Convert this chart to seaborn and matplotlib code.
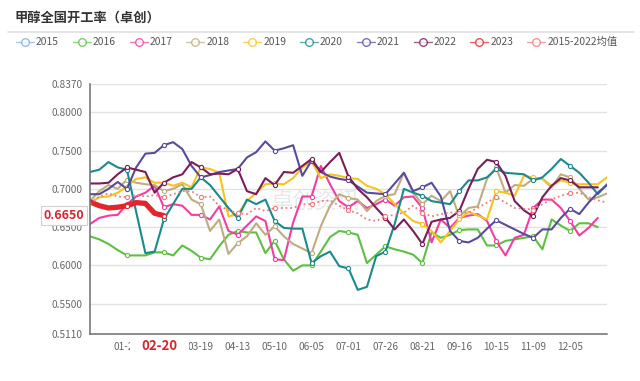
import numpy as np
import pandas as pd
import matplotlib
matplotlib.use("Agg")
import matplotlib.pyplot as plt
import matplotlib.transforms as mtransforms
from matplotlib.lines import Line2D
from matplotlib.patches import Rectangle
import seaborn as sns

nan = np.nan

# category axis: 57 weekly slots, a label every 4th slot
n_cat = 57
tick_labels = ["01-23", "02-20", "03-19", "04-13", "05-10", "06-05", "07-01",
               "07-26", "08-21", "09-16", "10-15", "11-09", "12-05"]
y_ticks = [0.511, 0.55, 0.60, 0.65, 0.70, 0.75, 0.80, 0.837]

y2015 = []
y2016 = [0.638, 0.634, 0.628, 0.620, 0.613, 0.613, 0.613, 0.617, 0.617, 0.613,
         0.626, 0.619, 0.610, 0.608, 0.625, 0.640, 0.645, 0.643, 0.643, 0.616,
         0.632, 0.608, 0.593, 0.600, 0.600, 0.618, 0.637, 0.645, 0.643, 0.640,
         0.603, 0.614, 0.625, 0.621, 0.618, 0.614, 0.603, 0.643, 0.636, 0.640,
         0.646, 0.647, 0.647, 0.626, 0.626, 0.632, 0.634, 0.636, 0.638, 0.621,
         0.660, 0.652, 0.645, 0.655, 0.655, 0.650, nan]
y2017 = [0.654, 0.662, 0.665, 0.666, 0.680, 0.690, 0.695, 0.704, 0.676, 0.680,
         0.678, 0.666, 0.666, 0.660, 0.677, 0.645, 0.640, 0.652, 0.664, 0.658,
         0.608, 0.607, 0.656, 0.690, 0.690, 0.730, 0.706, 0.684, 0.676, 0.684,
         0.675, 0.680, 0.686, 0.678, 0.689, 0.690, 0.675, 0.630, 0.660, 0.649,
         0.662, 0.665, 0.667, 0.658, 0.632, 0.613, 0.636, 0.640, 0.675, 0.686,
         0.686, 0.675, 0.658, 0.639, 0.649, 0.662, nan]
y2018 = [0.684, 0.697, 0.705, 0.700, 0.712, 0.708, 0.706, 0.705, 0.697, 0.700,
         0.706, 0.686, 0.680, 0.645, 0.660, 0.615, 0.629, 0.638, 0.655, 0.640,
         0.651, 0.638, 0.628, 0.622, 0.616, 0.651, 0.678, 0.693, 0.688, 0.686,
         0.671, 0.684, 0.691, 0.693, 0.721, 0.695, 0.680, 0.691, 0.684, 0.697,
         0.664, 0.675, 0.677, 0.713, 0.728, 0.695, 0.705, 0.704, 0.713, 0.713,
         0.702, 0.719, 0.715, 0.700, 0.686, 0.689, 0.694]
y2019 = [0.682, 0.689, 0.690, 0.695, 0.703, 0.713, 0.715, 0.708, 0.708, 0.704,
         0.708, 0.702, 0.728, 0.726, 0.721, 0.664, 0.667, 0.684, 0.695, 0.706,
         0.707, 0.706, 0.714, 0.728, 0.736, 0.714, 0.719, 0.717, 0.714, 0.713,
         0.704, 0.700, 0.693, 0.680, 0.668, 0.658, 0.654, 0.645, 0.630, 0.645,
         0.660, 0.670, 0.665, 0.660, 0.697, 0.695, 0.691, 0.717, 0.715, 0.713,
         0.704, 0.711, 0.708, 0.706, 0.706, 0.706, 0.715]
y2020 = [0.722, 0.725, 0.735, 0.728, 0.725, 0.670, 0.616, 0.618, 0.660, 0.680,
         0.700, 0.700, 0.715, 0.705, 0.690, 0.675, 0.662, 0.686, 0.680, 0.686,
         0.658, 0.649, 0.648, 0.648, 0.603, 0.612, 0.618, 0.599, 0.596, 0.568,
         0.572, 0.612, 0.618, 0.654, 0.700, 0.695, 0.691, 0.684, 0.682, 0.680,
         0.697, 0.711, 0.711, 0.715, 0.726, 0.721, 0.720, 0.719, 0.711, 0.715,
         0.726, 0.739, 0.730, 0.721, 0.708, 0.693, 0.706]
y2021 = [0.693, 0.693, 0.700, 0.709, 0.700, 0.728, 0.746, 0.747, 0.757, 0.761,
         0.752, 0.730, 0.715, 0.718, 0.722, 0.724, 0.726, 0.741, 0.748, 0.762,
         0.750, 0.753, 0.757, 0.717, 0.737, 0.722, 0.716, 0.713, 0.711, 0.703,
         0.695, 0.694, 0.693, 0.707, 0.721, 0.697, 0.702, 0.708, 0.690, 0.645,
         0.632, 0.630, 0.636, 0.648, 0.659, 0.653, 0.647, 0.641, 0.636, 0.647,
         0.647, 0.662, 0.674, 0.667, 0.682, 0.695, 0.705]
y2022 = [0.707, 0.707, 0.708, 0.719, 0.728, 0.725, 0.722, 0.695, 0.708, 0.715,
         0.719, 0.735, 0.728, 0.719, 0.720, 0.719, 0.726, 0.697, 0.693, 0.714,
         0.705, 0.722, 0.721, 0.730, 0.739, 0.722, 0.735, 0.747, 0.716, 0.700,
         0.689, 0.675, 0.662, 0.647, 0.660, 0.645, 0.628, 0.657, 0.660, 0.662,
         0.671, 0.700, 0.726, 0.738, 0.735, 0.717, 0.684, 0.672, 0.664, 0.689,
         0.704, 0.714, 0.711, 0.702, 0.702, 0.702, nan]
y2023 = [0.683, 0.678, 0.675, 0.676, 0.678, 0.682, 0.681, 0.668, 0.665]
y_avg = [0.680, 0.690, 0.694, 0.690, 0.689, 0.692, 0.690, 0.692, 0.689, 0.693,
         0.697, 0.697, 0.689, 0.690, 0.678, 0.672, 0.668, 0.667, 0.675, 0.671,
         0.675, 0.675, 0.675, 0.680, 0.680, 0.684, 0.685, 0.678, 0.672, 0.668,
         0.660, 0.658, 0.664, 0.666, 0.669, 0.678, 0.669, 0.664, 0.667, 0.669,
         0.669, 0.669, 0.675, 0.682, 0.689, 0.682, 0.675, 0.674, 0.673, 0.680,
         0.686, 0.691, 0.694, 0.695, 0.689, 0.685, 0.682]

pointer_label = "02-20"
pointer_value = 0.665

series = [
    ("2015", y2015, "#7eaee0"),
    ("2016", y2016, "#5cc040"),
    ("2017", y2017, "#f23da3"),
    ("2018", y2018, "#bfad80"),
    ("2019", y2019, "#f8c31c"),
    ("2020", y2020, "#1b8a8c"),
    ("2021", y2021, "#5a4a9f"),
    ("2022", y2022, "#7a1d5a"),
    ("2023", y2023, "#e2252c"),
    ("2015-2022均值", y_avg, "#f07c7c"),
]

rows = []
for name, vals, _ in series:
    for i, v in enumerate(vals):
        rows.append({"series": name, "idx": i, "rate": v})
df = pd.DataFrame(rows).dropna()

sns.set_style("white")
plt.rcParams["font.family"] = ["Noto Sans CJK SC", "DejaVu Sans"]

W, H = 640, 381
fig = plt.figure(figsize=(W / 100, H / 100), dpi=100)


def fx(px):
    return px / W


def fy(py):
    return 1 - py / H


ax = fig.add_axes([fx(90), fy(333.5), (607 - 90) / W, (333.5 - 84) / H])

tick_pos = list(range(4, 4 * len(tick_labels) + 1, 4))

for name, vals, color in series:
    sub = df[df["series"] == name]
    if sub.empty:
        continue
    n = len(sub)
    marks = [m for m in tick_pos if m < n]
    kw = dict(lw=1.5, marker="o", markevery=marks, ms=3.0, mfc="white",
              mec=color, mew=0.8)
    if name == "2023":
        kw.update(lw=3.8)
    if name.endswith("均值"):
        kw.update(lw=1.3, ls=(0, (1, 1.6)))
    sns.lineplot(data=sub, x="idx", y="rate", ax=ax, color=color,
                 estimator=None, errorbar=None, legend=False, sort=True, **kw)

ax.set_xlim(0, n_cat - 1)
ax.set_ylim(y_ticks[0], y_ticks[-1])
ax.set_xticks(tick_pos)
ax.set_xticklabels(tick_labels)
ax.set_yticks(y_ticks)
ax.set_yticklabels([f"{v:.4f}" for v in y_ticks])
ax.set_xlabel("")
ax.set_ylabel("")

for s in ["top", "right"]:
    ax.spines[s].set_visible(False)
for s in ["left", "bottom"]:
    ax.spines[s].set_color("#6e6e6e")
    ax.spines[s].set_linewidth(1.1)

ax.yaxis.grid(True, color="#e2e2e2", lw=1.0)
ax.set_axisbelow(True)
ax.tick_params(axis="y", length=3, width=1, color="#6e6e6e", pad=2.5,
               labelsize=7.3, labelcolor="#666666")
ax.tick_params(axis="x", length=3, width=1, color="#6e6e6e", pad=3,
               labelsize=7.3, labelcolor="#666666")

# faint watermark
ax.text(fx(315), fy(202), "卓创资讯", transform=fig.transFigure, fontsize=16,
        color="#c8c8c8", alpha=0.4, ha="center", va="center", zorder=1)

# axis pointer labels
trans = mtransforms.blended_transform_factory(ax.transAxes, ax.transData)
ax.text(-0.0503, pointer_value, f"{pointer_value:.4f}", transform=trans,
        ha="center", va="center", color="#d7262c", fontsize=9, weight="bold",
        clip_on=False, zorder=6,
        bbox=dict(boxstyle="square,pad=0.25", fc="white", ec="#d0d0d0", lw=0.8))
fig.add_artist(Rectangle((fx(130), fy(356)), (189 - 130) / W, 18 / H,
                         transform=fig.transFigure, fc="white", ec="none",
                         zorder=5))
fig.text(fx(159), fy(346), pointer_label, ha="center", va="center",
         color="#d7262c", fontsize=9.5, weight="bold", zorder=6)

# title and separator
fig.text(fx(15), fy(18), "甲醇全国开工率（卓创）", fontsize=9.5, weight="bold",
         color="#333333", ha="left", va="center")
fig.add_artist(Line2D([fx(8), fx(634)], [fy(32), fy(32)],
                      transform=fig.transFigure, color="#e0e0e0", lw=1.2))

# legend drawn by hand, one icon per series
for k, (name, _, color) in enumerate(series):
    cx = 25 + 56.8 * k
    fig.add_artist(Line2D([fx(cx - 9), fx(cx + 9)], [fy(42), fy(42)],
                          transform=fig.transFigure, color=color, lw=1.0,
                          alpha=0.7))
    fig.add_artist(Line2D([fx(cx)], [fy(42)], transform=fig.transFigure,
                          marker="o", ms=5.5, mfc="white", mec=color, mew=1.0,
                          alpha=0.8))
    fig.text(fx(cx + 11), fy(42), name, fontsize=7.4, color="#555555",
             ha="left", va="center")

fig.savefig("out.png", dpi=100)
